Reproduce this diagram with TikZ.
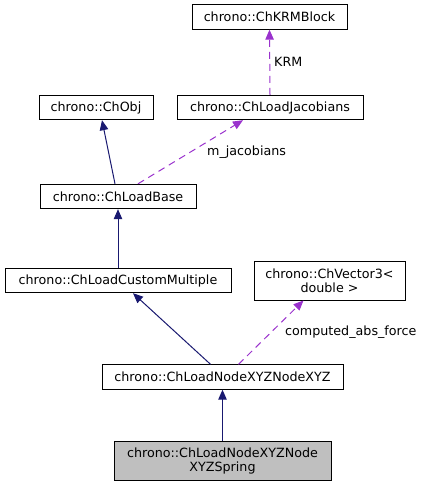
\documentclass[tikz,border=0pt]{standalone}
\usepackage{fontspec}
\setmainfont{DejaVu Sans}
\usetikzlibrary{arrows.meta}
\definecolor{edgeblue}{HTML}{191970}
\definecolor{edgepurple}{HTML}{9A32CD}
\definecolor{boxgrey}{HTML}{BFBFBF}
\tikzset{
  box/.style={draw=black, line width=0.9pt, fill=white, inner sep=0pt, align=center,
    font=\fontsize{12.7}{14}\selectfont, minimum height=24.5pt},
  inherit/.style={draw=edgeblue, line width=1pt, -{Triangle[length=10pt,width=8.5pt]}},
  usage/.style={draw=edgepurple, line width=1pt, dash pattern=on 7pt off 5pt,
    -{Triangle[length=10pt,width=8.5pt]}},
  elabel/.style={anchor=west, inner sep=0pt, font=\fontsize{12.7}{14}\selectfont}
}
\begin{document}
\begin{tikzpicture}[x=1pt,y=-1pt]
\useasboundingbox (0,0) rectangle (426,487);
\node[box, minimum width=155pt] (krm) at (269.5,17) {chrono::ChKRMBlock};
\node[box, minimum width=186pt] (jac) at (270,107.5) {chrono::ChLoadJacobians};
\node[box, minimum width=114pt] (obj) at (96,107.5) {chrono::ChObj};
\node[box, minimum width=156pt] (base) at (118,196.5) {chrono::ChLoadBase};
\node[box, minimum width=226pt] (cust) at (118,280.5) {chrono::ChLoadCustomMultiple};
\node[box, minimum width=151pt, minimum height=39pt] (vec) at (329.5,280.5) {chrono::ChVector3<\\double >};
\node[box, minimum width=241pt] (xyz) at (222.5,377) {chrono::ChLoadNodeXYZNodeXYZ};
\node[box, fill=boxgrey, minimum width=217pt, minimum height=39pt] (spring) at (222.5,460.5) {chrono::ChLoadNodeXYZNode\\XYZSpring};

\draw[usage] (jac.north) -- (krm.south);
\node[elabel] (lkrm) at (274,62) {KRM};
\draw[usage] ([xshift=20pt]base.north) -- ([xshift=-27pt]jac.south);
\node[elabel] (ljac) at (207,152) {m\_jacobians};
\draw[inherit] ([xshift=-3pt]base.north) -- ([xshift=6pt]obj.south);
\draw[inherit] (cust.north) -- (base.south);
\draw[inherit] ([xshift=-12pt]xyz.north) -- ([xshift=15pt]cust.south);
\draw[usage] ([xshift=16pt]xyz.north) -- ([xshift=-26pt]vec.south);
\node[elabel] (lvec) at (285,332) {computed\_abs\_force};
\draw[inherit] (spring.north) -- (xyz.south);
\end{tikzpicture}
\end{document}
